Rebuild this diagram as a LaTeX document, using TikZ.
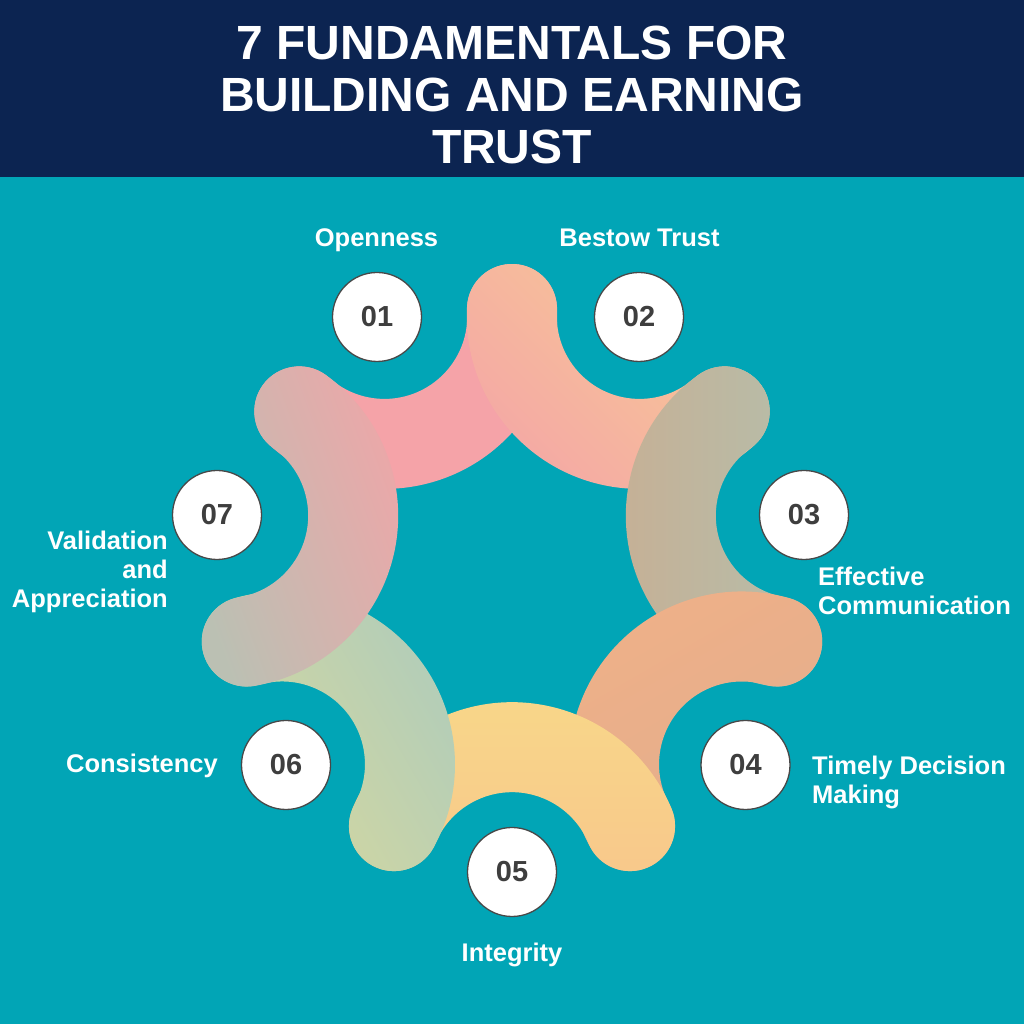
\documentclass[tikz,border=0pt]{standalone}
\usepackage{fontspec}
\setmainfont{Liberation Sans}
\usetikzlibrary{calc}
\definecolor{bgteal}{HTML}{01A5B6}
\definecolor{navy}{HTML}{0C2451}
\definecolor{numgrey}{HTML}{3E3E3E}
\definecolor{ringgrey}{HTML}{484848}
\definecolor{pinkA}{HTML}{F5A3A8}
\definecolor{peachTop}{HTML}{F8CA95}
\definecolor{peachBot}{HTML}{F4A8A5}
\definecolor{tanL}{HTML}{C7AF94}
\definecolor{tanR}{HTML}{B4BFAC}
\definecolor{oraTop}{HTML}{EFB088}
\definecolor{oraBot}{HTML}{E2AE8D}
\definecolor{yelTop}{HTML}{F8D889}
\definecolor{yelBot}{HTML}{F8C88B}
\definecolor{grnTop}{HTML}{AFCCBB}
\definecolor{grnBot}{HTML}{D9D99C}
\definecolor{greyL}{HTML}{BBC0B3}
\definecolor{pinkR}{HTML}{EEA6A8}
\newcommand\myband[3]{%
  \pgfmathsetmacro\aA{#2+112.5}%
  \pgfmathsetmacro\aB{#2+247.5}%
  \pgfmathsetmacro\aBB{#2+427.5}%
  \pgfmathsetmacro\aAA{#2+292.5}%
  \pgfmathsetmacro\aAAA{#2+472.5}%
  \path[#3] ($(#1)+(\aA:172.8)$) arc[start angle=\aA, end angle=\aB, radius=172.8]
     arc[start angle=\aB, end angle=\aBB, radius=45]
     arc[start angle=\aB, end angle=\aA, radius=82.8]
     arc[start angle=\aAA, end angle=\aAAA, radius=45] -- cycle;
}
\begin{document}
\begin{tikzpicture}[x=1pt,y=1pt,
  numcircle/.style={circle, draw=ringgrey, line width=1.3pt, fill=white, minimum size=89pt, inner sep=0pt,
     font=\fontsize{29}{29}\selectfont\bfseries, text=numgrey},
  lbl/.style={inner sep=0pt, text=white, font=\fontsize{25.5}{29}\selectfont\bfseries},
  ttl/.style={inner sep=0pt, text=white, font=\fontsize{48}{52}\selectfont\bfseries, anchor=base}]
\useasboundingbox (0,0) rectangle (1024,1024);
\fill[bgteal] (0,0) rectangle (1024,1024);
\fill[navy] (0,847) rectangle (1024,1024);
\node[ttl] (t1) at (512,964) {7 FUNDAMENTALS FOR};
\node[ttl] (t2) at (512,912) {BUILDING AND EARNING};
\node[ttl] (t3) at (512,860) {TRUST};
% arc centres on a regular heptagon
\coordinate (ctr) at (512,443);
\coordinate (P1) at ($(ctr)+(115.714:294)$);
\coordinate (P2) at ($(ctr)+(64.286:294)$);
\coordinate (P3) at ($(ctr)+(12.857:294)$);
\coordinate (P4) at ($(ctr)+(-38.571:294)$);
\coordinate (P5) at ($(ctr)+(-90:294)$);
\coordinate (P6) at ($(ctr)+(-141.429:294)$);
\coordinate (P7) at ($(ctr)+(-192.857:294)$);
\myband{P1}{115.714}{fill=pinkA}
\myband{P2}{64.286}{shade, top color=peachTop, bottom color=peachBot, shading angle=-45}
\myband{P3}{12.857}{shade, left color=tanL, right color=tanR}
\myband{P4}{-38.571}{shade, top color=oraTop, bottom color=oraBot, shading angle=30}
\myband{P5}{-90}{shade, top color=yelTop, bottom color=yelBot}
\myband{P6}{-141.429}{shade, top color=grnTop, bottom color=grnBot, shading angle=-60}
\myband{P7}{-192.857}{shade, left color=greyL, right color=pinkR, shading angle=110}
% number circles
\node[numcircle] (c1) at (377,707) {01};
\node[numcircle] (c2) at (639,707) {02};
\node[numcircle] (c3) at (804,509) {03};
\node[numcircle] (c4) at (745.5,259) {04};
\node[numcircle] (c5) at (512,152) {05};
\node[numcircle] (c6) at (286,259) {06};
\node[numcircle] (c7) at (217,509) {07};
% labels
\node[lbl, anchor=base] (l1) at (376.5,777) {Openness};
\node[lbl, anchor=base] (l2) at (639.5,777) {Bestow Trust};
\node[lbl, anchor=base west] (l3a) at (818,438) {Effective};
\node[lbl, anchor=base west] (l3b) at (818,409) {Communication};
\node[lbl, anchor=base west] (l4a) at (812,249) {Timely Decision};
\node[lbl, anchor=base west] (l4b) at (812,220) {Making};
\node[lbl, anchor=base] (l5) at (512,62) {Integrity};
\node[lbl, anchor=base east] (l6) at (218,251) {Consistency};
\node[lbl, anchor=base east] (l7a) at (168,474) {Validation};
\node[lbl, anchor=base east] (l7b) at (168,445) {and};
\node[lbl, anchor=base east] (l7c) at (168,416) {Appreciation};
\end{tikzpicture}
\end{document}
